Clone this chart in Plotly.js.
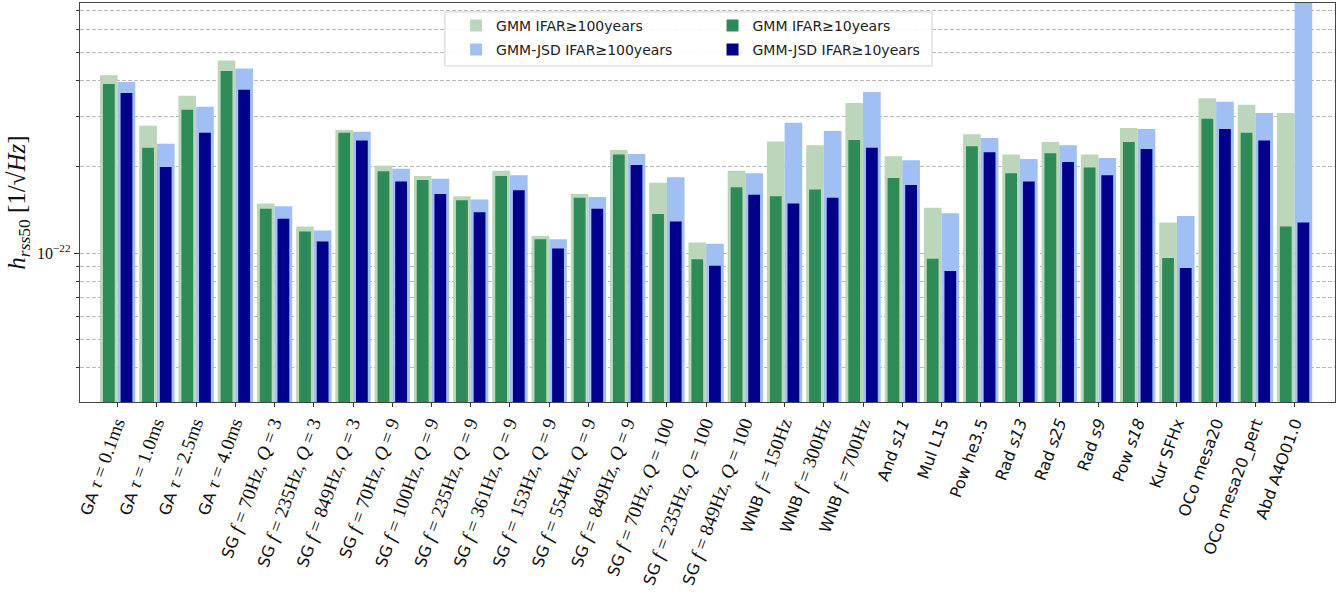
<!DOCTYPE html>
<html>
<head>
<meta charset="utf-8">
<script src="https://cdn.plot.ly/plotly-3.0.1.min.js"></script>
<style>
  html, body { margin: 0; padding: 0; background: #fff; }
  #chart { width: 1344px; height: 608px; }
</style>
</head>
<body>
<div id="chart"></div>
<script>
// Waveform / signal-model categories (tick labels, math parts set in serif)
const S = "font-family:'Liberation Serif',serif;font-size:19px";
const tickLabels = [
  `GA <span style="${S}"><i>τ</i> = 0.1ms</span>`,
  `GA <span style="${S}"><i>τ</i> = 1.0ms</span>`,
  `GA <span style="${S}"><i>τ</i> = 2.5ms</span>`,
  `GA <span style="${S}"><i>τ</i> = 4.0ms</span>`,
  `SG <span style="${S}"><i>f</i> = 70Hz, <i>Q</i> = 3</span>`,
  `SG <span style="${S}"><i>f</i> = 235Hz, <i>Q</i> = 3</span>`,
  `SG <span style="${S}"><i>f</i> = 849Hz, <i>Q</i> = 3</span>`,
  `SG <span style="${S}"><i>f</i> = 70Hz, <i>Q</i> = 9</span>`,
  `SG <span style="${S}"><i>f</i> = 100Hz, <i>Q</i> = 9</span>`,
  `SG <span style="${S}"><i>f</i> = 235Hz, <i>Q</i> = 9</span>`,
  `SG <span style="${S}"><i>f</i> = 361Hz, <i>Q</i> = 9</span>`,
  `SG <span style="${S}"><i>f</i> = 153Hz, <i>Q</i> = 9</span>`,
  `SG <span style="${S}"><i>f</i> = 554Hz, <i>Q</i> = 9</span>`,
  `SG <span style="${S}"><i>f</i> = 849Hz, <i>Q</i> = 9</span>`,
  `SG <span style="${S}"><i>f</i> = 70Hz, <i>Q</i> = 100</span>`,
  `SG <span style="${S}"><i>f</i> = 235Hz, <i>Q</i> = 100</span>`,
  `SG <span style="${S}"><i>f</i> = 849Hz, <i>Q</i> = 100</span>`,
  `WNB <span style="${S}"><i>f</i> = 150Hz</span>`,
  `WNB <span style="${S}"><i>f</i> = 300Hz</span>`,
  `WNB <span style="${S}"><i>f</i> = 700Hz</span>`,
  `And <i>s11</i>`,
  `Mul L15`,
  `Pow he3.5`,
  `Rad <i>s13</i>`,
  `Rad <i>s25</i>`,
  `Rad <i>s9</i>`,
  `Pow <i>s18</i>`,
  `Kur SFHx`,
  `OCo mesa20`,
  `OCo mesa20_pert`,
  `Abd A4O01.0`
];
const categoryIndex = tickLabels.map((_, i) => i);

// h_rss50 values [1/sqrt(Hz)]
const gmm100 = [4.17e-22, 2.78e-22, 3.54e-22, 4.70e-22, 1.49e-22, 1.24e-22, 2.69e-22, 2.02e-22, 1.86e-22, 1.58e-22,
                1.94e-22, 1.15e-22, 1.61e-22, 2.29e-22, 1.76e-22, 1.09e-22, 1.94e-22, 2.45e-22, 2.38e-22, 3.34e-22,
                2.18e-22, 1.44e-22, 2.60e-22, 2.21e-22, 2.44e-22, 2.21e-22, 2.73e-22, 1.28e-22, 3.47e-22, 3.29e-22, 3.08e-22];
const gmm10  = [3.89e-22, 2.33e-22, 3.16e-22, 4.32e-22, 1.43e-22, 1.19e-22, 2.63e-22, 1.93e-22, 1.80e-22, 1.53e-22,
                1.86e-22, 1.12e-22, 1.56e-22, 2.21e-22, 1.37e-22, 0.953e-22, 1.70e-22, 1.58e-22, 1.67e-22, 2.48e-22,
                1.83e-22, 0.958e-22, 2.36e-22, 1.90e-22, 2.23e-22, 1.99e-22, 2.44e-22, 0.963e-22, 2.94e-22, 2.63e-22, 1.24e-22];
const jsd100 = [3.95e-22, 2.41e-22, 3.24e-22, 4.40e-22, 1.46e-22, 1.20e-22, 2.65e-22, 1.97e-22, 1.82e-22, 1.54e-22,
                1.87e-22, 1.12e-22, 1.57e-22, 2.22e-22, 1.84e-22, 1.08e-22, 1.90e-22, 2.85e-22, 2.67e-22, 3.65e-22,
                2.11e-22, 1.38e-22, 2.52e-22, 2.13e-22, 2.38e-22, 2.15e-22, 2.71e-22, 1.35e-22, 3.37e-22, 3.08e-22, 9.0e-22];
const jsd10  = [3.62e-22, 2.00e-22, 2.63e-22, 3.71e-22, 1.32e-22, 1.10e-22, 2.47e-22, 1.78e-22, 1.61e-22, 1.39e-22,
                1.66e-22, 1.04e-22, 1.43e-22, 2.03e-22, 1.29e-22, 0.905e-22, 1.60e-22, 1.49e-22, 1.56e-22, 2.33e-22,
                1.73e-22, 0.868e-22, 2.25e-22, 1.78e-22, 2.08e-22, 1.87e-22, 2.31e-22, 0.889e-22, 2.71e-22, 2.47e-22, 1.28e-22];

const seriesNames = ['GMM IFAR≥100years', 'GMM IFAR≥10years', 'GMM-JSD IFAR≥100years', 'GMM-JSD IFAR≥10years'];

// y-axis: one labelled decade, unlabelled minor positions with grid
const yMajorVals = [1e-22];
const yMajorText = ['10<sup>−22</sup>'];
const yMinorVals = [4e-23, 5e-23, 6e-23, 7e-23, 8e-23, 9e-23, 2e-22, 3e-22, 4e-22, 5e-22, 6e-22, 7e-22];

const COL = { lg: '#bcd6bb', dg: '#2e8b57', lb: '#a0bff2', db: '#00008b' };

function bar(y, name, color, width, offset, legend) {
  return {
    type: 'bar', x: categoryIndex, y: y, name: name,
    width: width, offset: offset,
    marker: { color: color, line: { width: 0 } },
    legend: legend, legendgroup: name, hoverinfo: 'y+name'
  };
}

const traces = [
  bar(gmm100, seriesNames[0], COL.lg, 0.45, -0.45, 'legend'),
  bar(jsd100, seriesNames[2], COL.lb, 0.45, 0.0, 'legend'),
  bar(gmm10,  seriesNames[1], COL.dg, 0.30, -0.375, 'legend2'),
  bar(jsd10,  seriesNames[3], COL.db, 0.30, 0.075, 'legend2')
];

const legendFont = { family: 'DejaVu Sans, sans-serif', size: 14, color: '#222' };
const legendCommon = {
  xanchor: 'left', yanchor: 'top', traceorder: 'grouped', tracegroupgap: 3,
  bgcolor: 'rgba(0,0,0,0)', borderwidth: 0, font: legendFont,
  itemclick: false, itemdoubleclick: false
};

const gridStyle = { showgrid: true, gridcolor: '#b8b8b8', gridwidth: 1, griddash: '4px,2px' };

const layout = {
  width: 1344, height: 608,
  margin: { l: 80, r: 9, t: 3, b: 206, pad: 0 },
  paper_bgcolor: '#fff', plot_bgcolor: '#fff',
  barmode: 'overlay',
  showlegend: true,
  legend: Object.assign({ x: 0.2997, y: 0.983 }, legendCommon),
  legend2: Object.assign({ x: 0.504, y: 0.983 }, legendCommon),
  shapes: [{
    type: 'rect', xref: 'paper', yref: 'paper',
    x0: 0.2908, x1: 0.6789, y0: 0.8421, y1: 0.9774,
    fillcolor: 'rgba(255,255,255,0.9)', line: { color: '#d0d0d0', width: 1 },
    layer: 'above'
  }],
  xaxis: {
    range: [-0.96, 31.03],
    tickmode: 'array', tickvals: categoryIndex, ticktext: tickLabels,
    tickangle: -70,
    tickfont: { family: 'DejaVu Sans, sans-serif', size: 16, color: '#111' },
    ticks: 'outside', ticklen: 4, tickcolor: '#333', tickwidth: 1,
    showgrid: false, zeroline: false,
    showline: true, mirror: true, linecolor: '#444', linewidth: 1.3,
    automargin: false
  },
  yaxis: Object.assign({
    type: 'log',
    range: [-22.518, -21.128],
    tickmode: 'array', tickvals: yMajorVals, ticktext: yMajorText,
    tickfont: { family: "'Liberation Serif', serif", size: 16, color: '#111' },
    ticks: 'outside', ticklen: 5, tickcolor: '#333', tickwidth: 1,
    minor: Object.assign({ tickmode: 'array', tickvals: yMinorVals, ticks: 'outside',
                           ticklen: 3, tickcolor: '#333', tickwidth: 1 }, gridStyle),
    zeroline: false,
    showline: true, mirror: true, linecolor: '#444', linewidth: 1.3,
    automargin: false,
    title: {
      text: '<i>h</i><sub><i>rss</i>50</sub> [1/√<i>Hz</i>]',
      font: { family: "'Liberation Serif', serif", size: 25, color: '#111' },
      standoff: 4
    }
  }, gridStyle)
};

Plotly.newPlot('chart', traces, layout, { displayModeBar: false, staticPlot: true });
</script>
</body>
</html>
